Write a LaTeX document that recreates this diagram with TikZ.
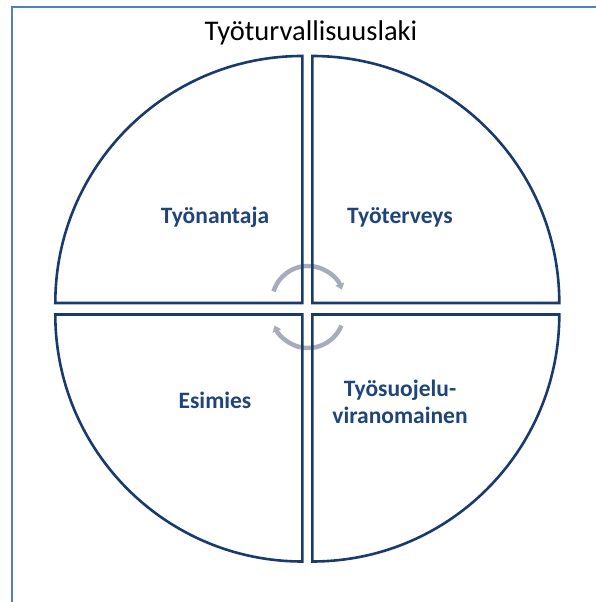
\documentclass[tikz,border=0pt]{standalone}
\usepackage{fontspec}
\setmainfont{Carlito}
\usetikzlibrary{arrows.meta}
\definecolor{quadblue}{RGB}{24,58,108}
\definecolor{txtblue}{RGB}{31,68,122}
\definecolor{framblue}{RGB}{79,129,189}
\definecolor{cycgray}{RGB}{166,172,188}
\tikzset{
  quad/.style={draw=quadblue,line width=2.6pt},
  lbl/.style={text=txtblue,font=\fontsize{23.5}{26.7}\selectfont\bfseries,align=center,anchor=base,inner sep=0pt},
  ttl/.style={font=\fontsize{28.5}{32}\selectfont,anchor=base,inner sep=0pt},
  cyc/.style={draw=cycgray,line width=4.5pt,-{Triangle[length=6pt,width=9pt]}},
  frm/.style={draw=framblue,line width=2.2pt}
}
\newcommand{\qr}{247}
\begin{document}
\begin{tikzpicture}[x=1pt,y=1pt]
\useasboundingbox (0,0) rectangle (595,602);
\draw[frm] (12,-5) -- (12,595) -- (600,595);
\node[ttl] (title) at (311,561.3) {Työturvallisuuslaki};
% cycle arrows
\draw[cyc] ([shift={(163:36)}]308,300) arc[start angle=163,end angle=20,radius=36];
\draw[cyc] ([shift={(-22:36)}]308,290) arc[start angle=-22,end angle=-158,radius=36];
% quadrants
\coordinate (ul) at (302.3,299);
\coordinate (ur) at (312.3,299);
\coordinate (ll) at (302.3,287.5);
\coordinate (lr) at (312.3,287.5);
\draw[quad] (ul) -- ++(-\qr,0) arc[start angle=180,end angle=90,radius=\qr] -- cycle;
\draw[quad] (ur) -- ++(0,\qr) arc[start angle=90,end angle=0,radius=\qr] -- cycle;
\draw[quad] (ll) -- ++(0,-\qr) arc[start angle=270,end angle=180,radius=\qr] -- cycle;
\draw[quad] (lr) -- ++(\qr,0) arc[start angle=0,end angle=-90,radius=\qr] -- cycle;
\node[lbl] (tyonantaja) at (215,378.7) {Työnantaja};
\node[lbl] (tyoterveys) at (400,378.7) {Työterveys};
\node[lbl] (esimies) at (215,193.7) {Esimies};
\node[lbl] (suojelu) at (400,178.7) {Työsuojelu-\\viranomainen};
\end{tikzpicture}
\end{document}
